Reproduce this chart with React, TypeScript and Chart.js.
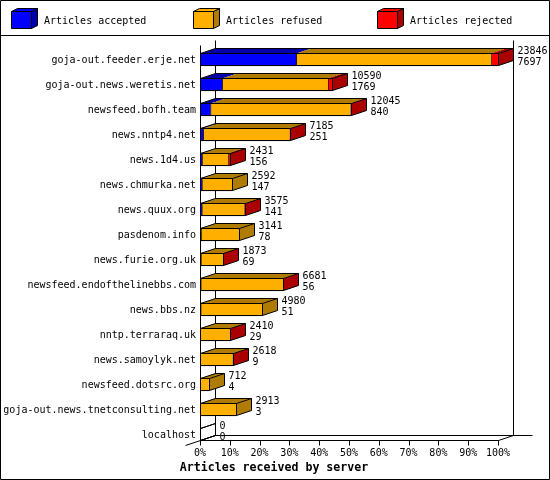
import React, { useEffect, useRef } from 'react';
import { Chart, registerables } from 'chart.js';

Chart.register(...registerables);

const servers = [
  'goja-out.feeder.erje.net',
  'goja-out.news.weretis.net',
  'newsfeed.bofh.team',
  'news.nntp4.net',
  'news.1d4.us',
  'news.chmurka.net',
  'news.quux.org',
  'pasdenom.info',
  'news.furie.org.uk',
  'newsfeed.endofthelinebbs.com',
  'news.bbs.nz',
  'nntp.terraraq.uk',
  'news.samoylyk.net',
  'newsfeed.dotsrc.org',
  'goja-out.news.tnetconsulting.net',
  'localhost',
];
const accepted = [7697, 1769, 840, 251, 156, 147, 141, 78, 69, 56, 51, 29, 9, 4, 3, 0];
const refused = [15619, 8471, 11165, 6914, 2115, 2445, 3404, 3063, 1784, 6585, 4929, 2361, 2599, 708, 2910, 0];
const rejected = [530, 350, 40, 20, 160, 0, 30, 0, 20, 40, 0, 20, 10, 0, 0, 0];
const totals = [23846, 10590, 12045, 7185, 2431, 2592, 3575, 3141, 1873, 6681, 4980, 2410, 2618, 712, 2913, 0];
const axisMax = 23846;
const tickLabels = ['0%', '10%', '20%', '30%', '40%', '50%', '60%', '70%', '80%', '90%', '100%'];

const COLORS = ['#0000ff', '#ffaf00', '#ff0000'];
const DARK = ['#0000aa', '#af7b00', '#aa0000'];
const LEGEND_X = [11, 193, 377];
const FONT = '10px "DejaVu Sans Mono"';
const DX = 15;
const DY = 5;

const snap = (v: number) => Math.round(v) + 0.5;

function poly(ctx: CanvasRenderingContext2D, pts: number[][], fill?: string, stroke = true) {
  ctx.beginPath();
  pts.forEach((p, i) => (i === 0 ? ctx.moveTo(p[0], p[1]) : ctx.lineTo(p[0], p[1])));
  if (fill) {
    ctx.closePath();
    ctx.fillStyle = fill;
    ctx.fill();
  }
  if (stroke) {
    ctx.strokeStyle = '#000';
    ctx.lineWidth = 1;
    ctx.stroke();
  }
}

// the 3D look: walls behind the bars, then tops and sides of each bar
const walls = {
  id: 'walls',
  beforeDatasetsDraw(chart: any) {
    const { ctx, chartArea, scales } = chart;
    const x0 = snap(scales.x.getPixelForValue(0));
    const x1 = snap(scales.x.getPixelForValue(axisMax));
    const bottom = chartArea.bottom - 7 + 0.5;
    ctx.save();
    poly(ctx, [[x0 + DX, chartArea.top - 7 + 0.5], [x0 + DX, bottom - DY]]);
    poly(ctx, [[x1 + DX, chartArea.top - 7 + 0.5], [x1 + DX, bottom - DY]]);
    poly(ctx, [[x0 - DX, bottom + DY], [x0 + DX, bottom - DY], [x1 + DX + 19, bottom - DY]]);
    poly(ctx, [[x0, bottom], [x1, bottom], [x1 + DX, bottom - DY]]);
    scales.x.ticks.forEach((t: any) => {
      const x = snap(scales.x.getPixelForValue(t.value));
      poly(ctx, [[x, bottom], [x, bottom + DY]]);
    });
    ctx.restore();
  },
  afterDatasetsDraw(chart: any) {
    const { ctx, chartArea, scales } = chart;
    const x0 = snap(scales.x.getPixelForValue(0));
    ctx.save();
    servers.forEach((_, i) => {
      const center = scales.y.getPixelForValue(i);
      const yTop = center - 6;
      const yBottom = center + 6;
      let start = x0;
      let last = -1;
      const series = [accepted[i], refused[i], rejected[i]];
      let sum = 0;
      series.forEach((v, s) => {
        if (v <= 0) return;
        sum += v;
        const end = scales.x.getPixelForValue(sum);
        poly(ctx, [[start, yTop], [start + DX, yTop - DY], [end + DX, yTop - DY], [end, yTop]], DARK[s], false);
        start = end;
        last = s;
      });
      const xEnd = snap(scales.x.getPixelForValue(sum));
      if (last >= 0) {
        poly(ctx, [[xEnd, yTop], [xEnd + DX, yTop - DY], [xEnd + DX, yBottom - DY], [xEnd, yBottom]], DARK[last], false);
      }
      poly(ctx, [[x0, yTop], [x0 + DX, yTop - DY], [xEnd + DX, yTop - DY], [xEnd + DX, yBottom - DY], [xEnd, yBottom]]);
      poly(ctx, [[xEnd + DX, yTop - DY], [xEnd, yTop], [x0, yTop]]);
      poly(ctx, [[xEnd, yTop], [xEnd, yBottom], [x0, yBottom]]);
      if (last < 0) poly(ctx, [[x0, yBottom], [x0 + DX, yBottom - DY]]);

      ctx.font = FONT;
      ctx.fillStyle = '#000';
      ctx.textAlign = 'left';
      ctx.textBaseline = 'middle';
      ctx.fillText(String(totals[i]), xEnd + DX + 4, center - 8);
      ctx.fillText(String(accepted[i]), xEnd + DX + 4, center + 3);
    });
    poly(ctx, [[x0, chartArea.top - 2 + 0.5], [x0, chartArea.bottom - 7 + 0.5]]);
    ctx.restore();
  },
  afterDraw(chart: any) {
    const { ctx, width, height } = chart;
    ctx.save();
    // legend swatches and captions
    chart.data.datasets.forEach((ds: any, s: number) => {
      const x = LEGEND_X[s] + 0.5;
      poly(ctx, [[x + 20, 28.5], [x + 26, 25.5], [x + 26, 8.5], [x + 20, 11.5]], DARK[s]);
      poly(ctx, [[x, 11.5], [x + 6, 8.5], [x + 26, 8.5], [x + 20, 11.5]], COLORS[s]);
      poly(ctx, [[x, 11.5], [x + 20, 11.5], [x + 20, 28.5], [x, 28.5]], COLORS[s]);
      ctx.font = FONT;
      ctx.fillStyle = '#000';
      ctx.textAlign = 'left';
      ctx.textBaseline = 'middle';
      ctx.fillText(ds.label, LEGEND_X[s] + 33, 21);
    });
    ctx.font = 'bold 11.6px "DejaVu Sans Mono"';
    ctx.fillStyle = '#000';
    ctx.textAlign = 'center';
    ctx.textBaseline = 'middle';
    ctx.fillText('Articles received by server', 274, 468);
    // frame and legend divider
    poly(ctx, [[0.5, 0.5], [width - 0.5, 0.5], [width - 0.5, height - 0.5], [0.5, height - 0.5], [0.5, 0.5]]);
    poly(ctx, [[0, 35.5], [width, 35.5]]);
    ctx.restore();
  },
};

const background = {
  id: 'background',
  beforeDraw(chart: any) {
    chart.ctx.save();
    chart.ctx.fillStyle = '#fff';
    chart.ctx.fillRect(0, 0, chart.width, chart.height);
    chart.ctx.restore();
  },
};

const App: React.FC = () => {
  const chartRef = useRef<HTMLCanvasElement>(null);

  useEffect(() => {
    if (!chartRef.current) return;
    document.body.style.margin = '0';

    const bar = {
      borderColor: '#000',
      borderWidth: { top: 1, bottom: 1, left: 1, right: 0 },
      borderSkipped: false,
      barThickness: 13,
    };

    const chart = new Chart(chartRef.current, {
      type: 'bar',
      data: {
        labels: servers,
        datasets: [
          { label: 'Articles accepted', data: accepted, backgroundColor: COLORS[0], ...bar },
          { label: 'Articles refused', data: refused, backgroundColor: COLORS[1], ...bar },
          { label: 'Articles rejected', data: rejected, backgroundColor: COLORS[2], ...bar },
        ],
      } as any,
      options: {
        indexAxis: 'y',
        responsive: false,
        animation: false,
        devicePixelRatio: 1,
        events: [],
        layout: { padding: { top: 47, left: 4, right: 52, bottom: 0 } },
        plugins: { legend: { display: false }, tooltip: { enabled: false }, title: { display: false } },
        scales: {
          x: {
            stacked: true,
            min: 0,
            max: axisMax,
            grid: { display: false, drawTicks: false },
            border: { display: false },
            afterFit: (scale: any) => {
              scale.height = 33;
            },
            afterBuildTicks: (scale: any) => {
              scale.ticks = tickLabels.map((_, i) => ({ value: (axisMax * i) / 10 }));
            },
            ticks: {
              autoSkip: false,
              maxRotation: 0,
              padding: 0,
              color: '#000',
              font: { family: 'DejaVu Sans Mono', size: 10 },
              callback: (_v: any, i: number) => tickLabels[i],
            },
          },
          y: {
            stacked: true,
            grid: { display: false, drawTicks: false },
            border: { display: false },
            afterFit: (scale: any) => {
              scale.width = 196;
            },
            ticks: {
              autoSkip: false,
              padding: 4,
              labelOffset: 1,
              color: '#000',
              font: { family: 'DejaVu Sans Mono', size: 10 },
            },
          },
        },
      } as any,
      plugins: [background, walls],
    });

    return () => chart.destroy();
  }, []);

  return <canvas ref={chartRef} width={550} height={480} style={{ display: 'block' }} />;
};

export default App;
